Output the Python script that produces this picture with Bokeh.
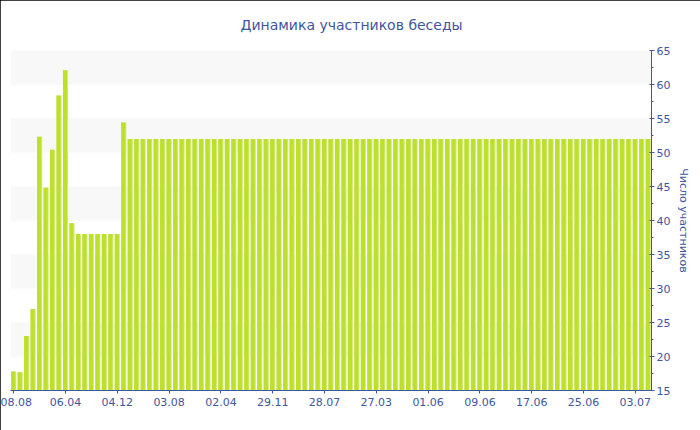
from bokeh.plotting import figure
from bokeh.models import (ColumnDataSource, FixedTicker, SingleIntervalTicker,
                          BoxAnnotation, Range1d, GlobalInlineStyleSheet)
from bokeh.transform import dodge
from bokeh.embed import file_html
from bokeh.resources import INLINE

title_text = "Динамика участников беседы"
y_label = "Число участников"

participants = [
    17.8, 17.7, 23.0, 27.0, 52.3, 44.8, 50.4, 58.4, 62.1, 39.6,
    38, 38, 38, 38, 38, 38, 38, 54.4, 52, 52,
    52, 52, 52, 52, 52, 52, 52, 52, 52, 52,
    52, 52, 52, 52, 52, 52, 52, 52, 52, 52,
    52, 52, 52, 52, 52, 52, 52, 52, 52, 52,
    52, 52, 52, 52, 52, 52, 52, 52, 52, 52,
    52, 52, 52, 52, 52, 52, 52, 52, 52, 52,
    52, 52, 52, 52, 52, 52, 52, 52, 52, 52,
    52, 52, 52, 52, 52, 52, 52, 52, 52, 52,
    52, 52, 52, 52, 52, 52, 52, 52, 52,
]
tick_labels = ["08.08", "06.04", "04.12", "03.08", "02.04", "29.11", "28.07",
               "27.03", "01.06", "09.06", "17.06", "25.06", "03.07"]
label_every = 8

y_min, y_max = 15, 65

TEXT = "#40569f"
GREEN = "#bde02d"
PALE = "#d6eb88"
BAND = "#f8f8f8"
FONT = "DejaVu Sans"

n = len(participants)
xs = list(range(n))
tick_pos = [i * label_every for i in range(len(tick_labels))]

p = figure(width=700, height=430, output_backend="svg", toolbar_location=None,
           x_range=Range1d(-0.5, n - 0.5), y_range=Range1d(y_min, y_max),
           y_axis_location="right", title=title_text,
           min_border_left=10, min_border_right=49,
           min_border_top=50, min_border_bottom=40)
p.stylesheets = [GlobalInlineStyleSheet(css="html, body { margin: 0 !important; padding: 0; }")]
p.styles = {"outline": "1px solid #000", "outline-offset": "-1px"}

p.outline_line_color = None
p.grid.visible = False
p.background_fill_color = "white"
p.border_fill_color = "white"

for lo in range(y_min + 5, y_max, 10):
    p.add_layout(BoxAnnotation(bottom=lo, top=lo + 5, fill_color=BAND, fill_alpha=1,
                               line_color=None, level="underlay"))

src = ColumnDataSource(dict(x=xs, v=participants))
p.vbar(x="x", top="v", bottom=y_min, width=0.8, source=src,
       fill_color=PALE, line_color=None)
p.vbar(x=dodge("x", -0.075), top="v", bottom=y_min, width=0.65, source=src,
       fill_color=GREEN, line_color=None)

p.title.text_font = FONT
p.title.text_font_size = "14px"
p.title.text_font_style = "normal"
p.title.text_color = TEXT
p.title.align = "left"
p.title.offset = 230
p.title.vertical_align = "top"
p.title.standoff = 32

xa = p.xaxis[0]
xa.ticker = FixedTicker(ticks=tick_pos)
xa.major_label_overrides = {pos: lab for pos, lab in zip(tick_pos, tick_labels)}
xa.major_label_text_font = FONT
xa.major_label_text_font_size = "11px"
xa.major_label_text_color = TEXT
xa.axis_line_color = TEXT
xa.major_tick_line_color = TEXT
xa.major_tick_out = 3
xa.major_tick_in = 0
xa.minor_tick_line_color = None
xa.major_label_standoff = 4

ya = p.yaxis[0]
ya.ticker = SingleIntervalTicker(interval=5, num_minor_ticks=2)
ya.major_label_text_font = FONT
ya.major_label_text_font_size = "11px"
ya.major_label_text_color = TEXT
ya.axis_line_color = TEXT
ya.major_tick_line_color = TEXT
ya.minor_tick_line_color = TEXT
ya.major_tick_out = 3
ya.major_tick_in = 2
ya.minor_tick_out = 2
ya.minor_tick_in = 0
ya.major_label_standoff = 2
ya.axis_label = y_label
ya.axis_label_text_font = FONT
ya.axis_label_text_font_size = "11px"
ya.axis_label_text_font_style = "normal"
ya.axis_label_text_color = TEXT
ya.axis_label_standoff = 4

open("out.html", "w").write(file_html(p, INLINE))
